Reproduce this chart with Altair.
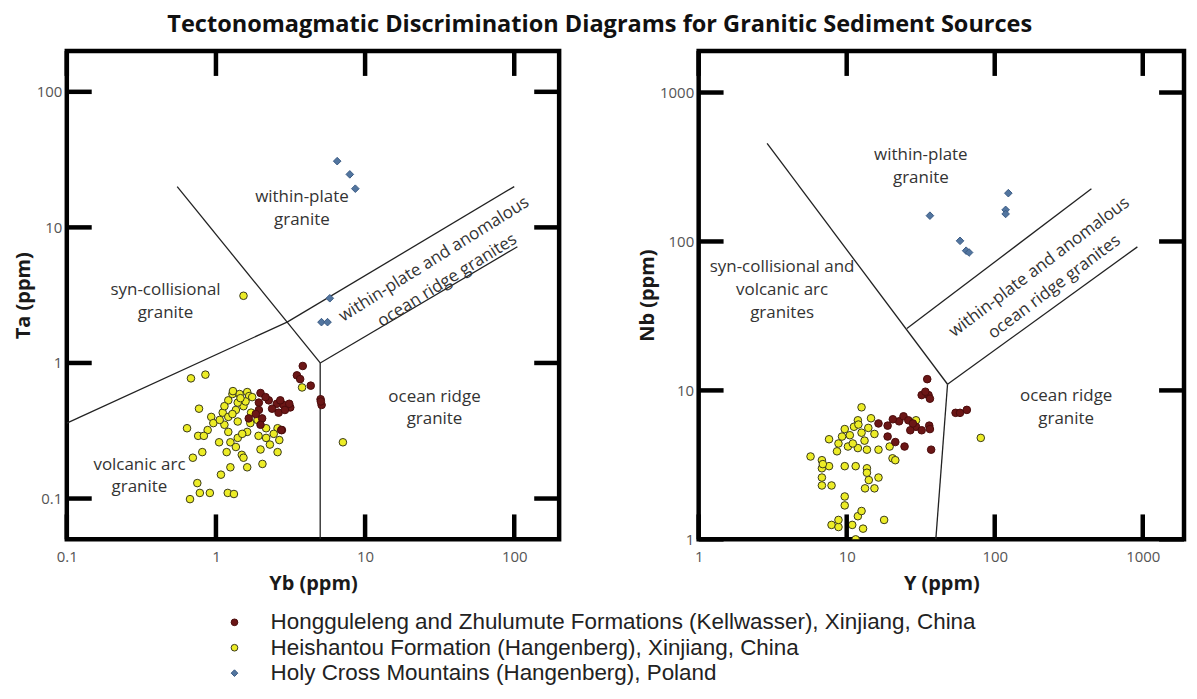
import altair as alt
import pandas as pd

TITLE = "Tectonomagmatic Discrimination Diagrams for Granitic Sediment Sources"
GROUPS = [
    "Hongguleleng and Zhulumute Formations (Kellwasser), Xinjiang, China",
    "Heishantou Formation (Hangenberg), Xinjiang, China",
    "Holy Cross Mountains (Hangenberg), Poland",
]
FILLS = ["#6b1616", "#ecec26", "#52759f"]
STROKES = ["#4a0c0c", "#3a3a1a", "#3b5b85"]
SHAPES = ["circle", "circle", "diamond"]

# ---------------- Left panel: Yb (x) vs Ta (y) ----------------
L_RED_YB = [3.82, 3.49, 3.67, 4.32, 5.03, 5.11, 5.05, 1.99, 2.26, 2.56, 2.84, 3.15, 1.94, 1.94,
            1.66, 2.04, 1.99, 2.77, 2.38, 2.63, 2.90, 3.10, 2.15, 1.85, 2.70, 2.74]
L_RED_TA = [0.95, 0.81, 0.76, 0.68, 0.54, 0.49, 0.52, 0.60, 0.53, 0.50, 0.49, 0.47, 0.51, 0.45,
            0.39, 0.39, 0.35, 0.32, 0.46, 0.43, 0.45, 0.50, 0.56, 0.42, 0.53, 0.32]
L_YEL_YB = [1.53, 0.68, 0.85, 3.78, 7.10, 0.64, 0.77, 0.93, 1.29, 1.44, 1.62, 1.67, 1.11, 1.21,
            1.36, 1.53, 1.72, 1.14, 0.96, 0.88, 0.76, 0.83, 1.21, 1.40, 1.25, 1.36, 1.62, 1.93,
            2.17, 2.59, 2.66, 2.59, 1.99, 1.18, 1.49, 1.53, 0.70, 0.81, 1.25, 1.08, 1.62, 2.05,
            0.75, 0.78, 0.91, 0.67, 1.20, 1.32, 1.21, 1.40, 1.58, 1.14, 1.29, 1.40, 2.17, 2.44,
            1.30, 1.46, 1.75, 1.06, 1.70, 1.90, 2.30, 1.50, 1.05]
L_YEL_TA = [3.13, 0.77, 0.82, 0.66, 0.26, 0.33, 0.46, 0.40, 0.59, 0.59, 0.61, 0.57, 0.43, 0.40,
            0.45, 0.48, 0.43, 0.35, 0.36, 0.32, 0.29, 0.29, 0.31, 0.28, 0.26, 0.24, 0.31, 0.29,
            0.28, 0.33, 0.27, 0.22, 0.23, 0.22, 0.21, 0.20, 0.20, 0.22, 0.17, 0.15, 0.17, 0.18,
            0.13, 0.11, 0.11, 0.099, 0.11, 0.108, 0.53, 0.51, 0.52, 0.48, 0.42, 0.37, 0.33, 0.30,
            0.62, 0.55, 0.56, 0.38, 0.36, 0.38, 0.25, 0.30, 0.26]
L_BLUE_YB = [6.5, 7.9, 8.6, 5.8, 5.1, 5.6]
L_BLUE_TA = [30.8, 24.6, 19.3, 3.0, 2.0, 2.0]

# boundary segments (x1, y1, x2, y2)
L_SEGS = [
    (0.1, 0.36, 3.0, 2.0),
    (0.55, 20.0, 5.0, 1.0),
    (3.0, 2.0, 100.0, 20.0),
    (5.0, 1.0, 105.0, 7.2),
    (5.0, 1.0, 5.0, 0.05),
]
# region labels: (text, x, y of first line)
L_LABELS = [
    ("within-plate\ngranite", 3.77, 16.7),
    ("syn-collisional\ngranite", 0.459, 3.44),
    ("volcanic arc\ngranite", 0.307, 0.178),
    ("ocean ridge\ngranite", 29.2, 0.565),
]
L_ROT_LABEL = ("within-plate and anomalous\nocean ridge granites", 29.0, 5.82)

# ---------------- Right panel: Y (x) vs Nb (y) ----------------
R_RED_Y = [35.0, 32.1, 35.7, 36.5, 54.4, 58.3, 64.8, 16.4, 18.9, 22.6, 24.2, 26.1, 29.4, 32.1,
           36.1, 36.5, 18.9, 21.3, 24.6, 37.2, 26.9, 20.5, 28.0, 34.0]
R_RED_NB = [11.9, 9.3, 9.3, 8.8, 7.07, 7.07, 7.4, 6.0, 5.8, 6.2, 6.7, 6.3, 5.7, 5.4,
            5.8, 5.5, 4.9, 4.5, 4.2, 4.0, 5.4, 6.4, 6.0, 9.8]
R_YEL_Y = [12.6, 14.6, 11.9, 9.7, 11.2, 12.6, 15.4, 7.6, 8.8, 10.2, 11.9, 13.7, 16.4, 19.5,
           8.6, 5.7, 6.8, 7.6, 6.8, 9.7, 11.5, 13.7, 13.7, 16.4, 14.1, 6.8, 6.8, 7.9, 13.3,
           15.4, 20.4, 21.3, 9.7, 9.7, 7.9, 8.8, 8.8, 10.9, 11.9, 12.6, 12.9, 17.9, 11.5,
           80.5, 29.4, 10.5, 12.0, 13.2, 9.3, 11.0, 14.0, 6.9]
R_YEL_NB = [7.7, 6.5, 6.3, 5.5, 5.7, 5.2, 5.1, 4.7, 4.4, 4.2, 4.1, 4.0, 4.0, 4.2,
            3.9, 3.6, 3.4, 3.1, 3.0, 3.1, 3.1, 3.0, 2.8, 2.6, 2.5, 2.6, 2.3, 2.3, 2.2,
            2.2, 3.5, 3.4, 1.94, 1.69, 1.25, 1.21, 1.35, 1.25, 1.43, 1.55, 1.18, 1.35, 1.0,
            4.8, 6.3, 5.0, 5.9, 4.6, 4.9, 4.4, 5.6, 3.2]
R_BLUE_Y = [36.5, 58.3, 64.1, 67.1, 118.5, 118.5, 123.6]
R_BLUE_NB = [149, 101, 86.7, 84.3, 163, 153, 211]

R_SEGS = [
    (2.9, 455.0, 48.0, 11.0),
    (48.0, 11.0, 40.0, 1.0),
    (25.5, 26.0, 450.0, 226.0),
    (48.0, 11.0, 920.0, 92.0),
]
R_LABELS = [
    ("within-plate\ngranite", 31.7, 378.0),
    ("syn-collisional and\nvolcanic arc\ngranites", 3.66, 67.5),
    ("ocean ridge\ngranite", 304.0, 9.12),
]
R_ROT_LABEL = ("within-plate and anomalous\nocean ridge granites", 200.0, 67.2)

L_XTICKS = [0.1, 1, 10, 100]
L_YTICKS = [0.1, 1, 10, 100]
R_XTICKS = [1, 10, 100, 1000]
R_YTICKS = [1, 10, 100, 1000]

W_L, H = 494, 490
W_R = 487
TICK_LEN = 25
FONT = "Open Sans"


def points_df(red, yel, blue):
    rows = []
    for gi, (xs, ys) in [(1, yel), (0, red), (2, blue)]:
        for a, b in zip(xs, ys):
            rows.append({"x": a, "y": b, "group": GROUPS[gi]})
    return pd.DataFrame(rows)


def segs_df(segs):
    rows = []
    for i, (x1, y1, x2, y2) in enumerate(segs):
        rows.append({"x": x1, "y": y1, "seg": i, "ord": 0})
        rows.append({"x": x2, "y": y2, "seg": i, "ord": 1})
    return pd.DataFrame(rows)


legend = alt.Legend(
    title=None, orient="none", legendX=157, legendY=562, direction="vertical",
    labelFont="Liberation Sans", labelFontSize=22.5, labelColor="#222", labelLimit=0,
    symbolSize=45, labelOffset=25, rowPadding=2.5, padding=0, symbolStrokeWidth=1,
)
fill_scale = alt.Scale(domain=GROUPS, range=FILLS)
stroke_scale = alt.Scale(domain=GROUPS, range=STROKES)
shape_scale = alt.Scale(domain=GROUPS, range=SHAPES)


def panel(pts, segs, labels, rot_label, rot_angle, xdom, ydom, xticks, yticks,
          xtitle, ytitle, w, ytitle_pad):
    xs = alt.Scale(type="log", domain=xdom, nice=False)
    ys = alt.Scale(type="log", domain=ydom, nice=False)
    xaxis = alt.Axis(values=xticks, format="~g", ticks=False, tickSize=0, domain=False, grid=False,
                     labelFont=FONT, labelFontSize=15, labelColor="#555", labelPadding=10,
                     labelFlush=False,
                     title=xtitle, titleFont=FONT, titleFontSize=20, titleFontWeight="bold",
                     titleColor="#1a1a1a", titlePadding=9)
    yaxis = alt.Axis(values=yticks, format="~g", ticks=False, tickSize=0, domain=False, grid=False,
                     labelFont=FONT, labelFontSize=15, labelColor="#555", labelPadding=5,
                     labelFlush=False,
                     title=ytitle, titleFont=FONT, titleFontSize=20, titleFontWeight="bold",
                     titleColor="#1a1a1a", titlePadding=ytitle_pad)

    X = alt.X("x:Q", scale=xs, axis=xaxis)
    Y = alt.Y("y:Q", scale=ys, axis=yaxis)

    lines = alt.Chart(segs_df(segs)).mark_line(color="#222", strokeWidth=1.3, clip=True).encode(
        x=X, y=Y, detail="seg:N", order="ord:Q")

    lab_df = pd.DataFrame([{"x": a, "y": b, "t": t} for t, a, b in labels])
    texts = alt.Chart(lab_df).mark_text(font=FONT, fontSize=17, color="#333",
                                        lineBreak="\n", lineHeight=23, align="center",
                                        baseline="middle").encode(x=X, y=Y, text="t:N")
    rot_df = pd.DataFrame([{"x": rot_label[1], "y": rot_label[2], "t": rot_label[0]}])
    rot = alt.Chart(rot_df).mark_text(font=FONT, fontSize=17, color="#333",
                                      lineBreak="\n", lineHeight=25, align="center",
                                      baseline="middle", angle=rot_angle).encode(x=X, y=Y, text="t:N")

    points = alt.Chart(pts).mark_point(filled=True, clip=True, strokeWidth=1, size=58,
                                       opacity=1).encode(
        x=X, y=Y,
        fill=alt.Fill("group:N", scale=fill_scale, legend=legend),
        stroke=alt.Stroke("group:N", scale=stroke_scale, legend=legend),
        shape=alt.Shape("group:N", scale=shape_scale, legend=legend),
    )

    xt = pd.DataFrame({"x": xticks})
    yt = pd.DataFrame({"y": yticks})
    tick_style = dict(color="black", strokeWidth=4.5)
    top = alt.Chart(xt).mark_rule(**tick_style).encode(x=X, y=alt.value(0), y2=alt.value(TICK_LEN))
    bot = alt.Chart(xt).mark_rule(**tick_style).encode(x=X, y=alt.value(H - TICK_LEN), y2=alt.value(H))
    lef = alt.Chart(yt).mark_rule(**tick_style).encode(y=Y, x=alt.value(0), x2=alt.value(TICK_LEN))
    rig = alt.Chart(yt).mark_rule(**tick_style).encode(y=Y, x=alt.value(w - TICK_LEN), x2=alt.value(w))

    return alt.layer(lines, texts, rot, points, top, bot, lef, rig).properties(width=w, height=H)


left = panel(points_df((L_RED_YB, L_RED_TA), (L_YEL_YB, L_YEL_TA), (L_BLUE_YB, L_BLUE_TA)),
             L_SEGS, L_LABELS, L_ROT_LABEL, 328, [0.1, 200], [0.05, 200],
             L_XTICKS, L_YTICKS, "Yb (ppm)", "Ta (ppm)", W_L, 3)
right = panel(points_df((R_RED_Y, R_RED_NB), (R_YEL_Y, R_YEL_NB), (R_BLUE_Y, R_BLUE_NB)),
              R_SEGS, R_LABELS, R_ROT_LABEL, 323, [1, 1900], [1, 1900],
              R_XTICKS, R_YTICKS, "Y (ppm)", "Nb (ppm)", W_R, 2)

chart = alt.hconcat(left, right, spacing=71).properties(
    title=alt.TitleParams(TITLE, font=FONT, fontSize=23.6, fontWeight="bold",
                          color="#111", anchor="middle", offset=10),
    padding={"left": 3, "top": 3, "right": 0, "bottom": 0},
).configure(background="white").configure_view(stroke="black", strokeWidth=4.5)

chart.save("out.html", embed_options={"renderer": "svg", "actions": False})
